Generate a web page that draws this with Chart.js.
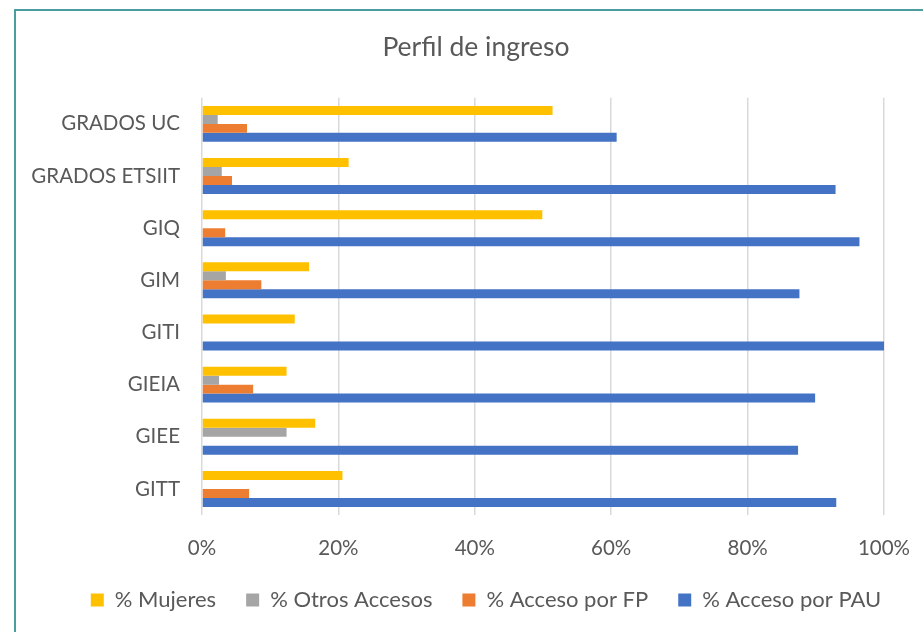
<!DOCTYPE html>
<html>
<head>
<meta charset="utf-8">
<script src="https://cdn.jsdelivr.net/npm/chart.js@4"></script>
<style>
  html, body { margin: 0; padding: 0; background: #fff; }
  #wrap { position: relative; width: 923px; height: 632px; overflow: hidden; }
  #frame {
    position: absolute; left: 14px; top: 9px; width: 960px; height: 700px;
    border-left: 2px solid #4a9ea0; border-top: 2px solid #4a9ea0;
    box-sizing: border-box; pointer-events: none;
  }
  canvas { position: absolute; left: 0; top: 0; }
</style>
</head>
<body>
<div id="wrap">
  <canvas id="chart" width="923" height="632"></canvas>
  <div id="frame"></div>
</div>
<script>
  // categories, top to bottom
  const grados = ['GRADOS UC', 'GRADOS ETSIIT', 'GIQ', 'GIM', 'GITI', 'GIEIA', 'GIEE', 'GITT'];

  // values (%)
  const mujeres      = [51.4, 21.5, 49.9, 15.7, 13.6, 12.4, 16.6, 20.6];
  const otrosAccesos = [2.3, 2.9, 0, 3.5, 0, 2.5, 12.4, 0];
  const accesoFP     = [6.6, 4.4, 3.4, 8.7, 0, 7.5, 0, 6.9];
  const accesoPAU    = [60.8, 92.9, 96.4, 87.6, 100, 89.9, 87.4, 93.0];

  const xTicks = [0, 20, 40, 60, 80, 100];

  const textColor = '#595959';
  const fontFamily = 'Lato, "Open Sans", sans-serif';

  // title and legend sit a bit right of the canvas centre in the original
  const shiftBlocks = {
    id: 'shiftBlocks',
    afterLayout(chart){
      const move = (box, dx) => { if(box){ box.left += dx; box.right += dx; } };
      move(chart.titleBlock, 34);
      move(chart.legend, 44);
    }
  };

  const ctx = document.getElementById('chart').getContext('2d');
  new Chart(ctx, {
    type: 'bar',
    data: {
      labels: grados,
      datasets: [
        { label: '% Mujeres', data: mujeres, backgroundColor: '#FFC000' },
        { label: '% Otros Accesos', data: otrosAccesos, backgroundColor: '#A5A5A5' },
        { label: '% Acceso por FP', data: accesoFP, backgroundColor: '#ED7D31' },
        { label: '% Acceso por PAU', data: accesoPAU, backgroundColor: '#4472C4' }
      ]
    },
    options: {
      indexAxis: 'y',
      responsive: false,
      animation: false,
      layout: { padding: { left: 0, right: 39, top: 0, bottom: 11 } },
      datasets: { bar: { barPercentage: 1, categoryPercentage: 0.69 } },
      scales: {
        x: {
          min: 0, max: 100,
          afterBuildTicks: function(scale){ scale.ticks = xTicks.map(v => ({ value: v })); },
          afterFit: function(scale){
            scale.height = 44;
            scale.paddingLeft = 0;
            scale.paddingRight = 0;
          },
          ticks: {
            callback: v => v + '%',
            color: textColor,
            font: { family: fontFamily, size: 20.5 },
            padding: 21
          },
          grid: { color: '#d9d9d9', lineWidth: 1.5, drawTicks: false },
          border: { display: false }
        },
        y: {
          afterFit: function(scale){ scale.width = 202; },
          ticks: {
            color: textColor,
            font: { family: fontFamily, size: 20.5 },
            padding: 22
          },
          grid: { display: false, drawTicks: false },
          border: { display: false }
        }
      },
      plugins: {
        title: {
          display: true,
          text: 'Perfil de ingreso',
          color: textColor,
          font: { family: fontFamily, size: 26.5, weight: 'normal' },
          padding: { top: 32, bottom: 34 }
        },
        legend: {
          position: 'bottom',
          labels: {
            color: textColor,
            font: { family: fontFamily, size: 22 },
            boxWidth: 13,
            boxHeight: 13,
            padding: 30
          }
        },
        tooltip: { enabled: false }
      }
    },
    plugins: [shiftBlocks]
  });
</script>
</body>
</html>
